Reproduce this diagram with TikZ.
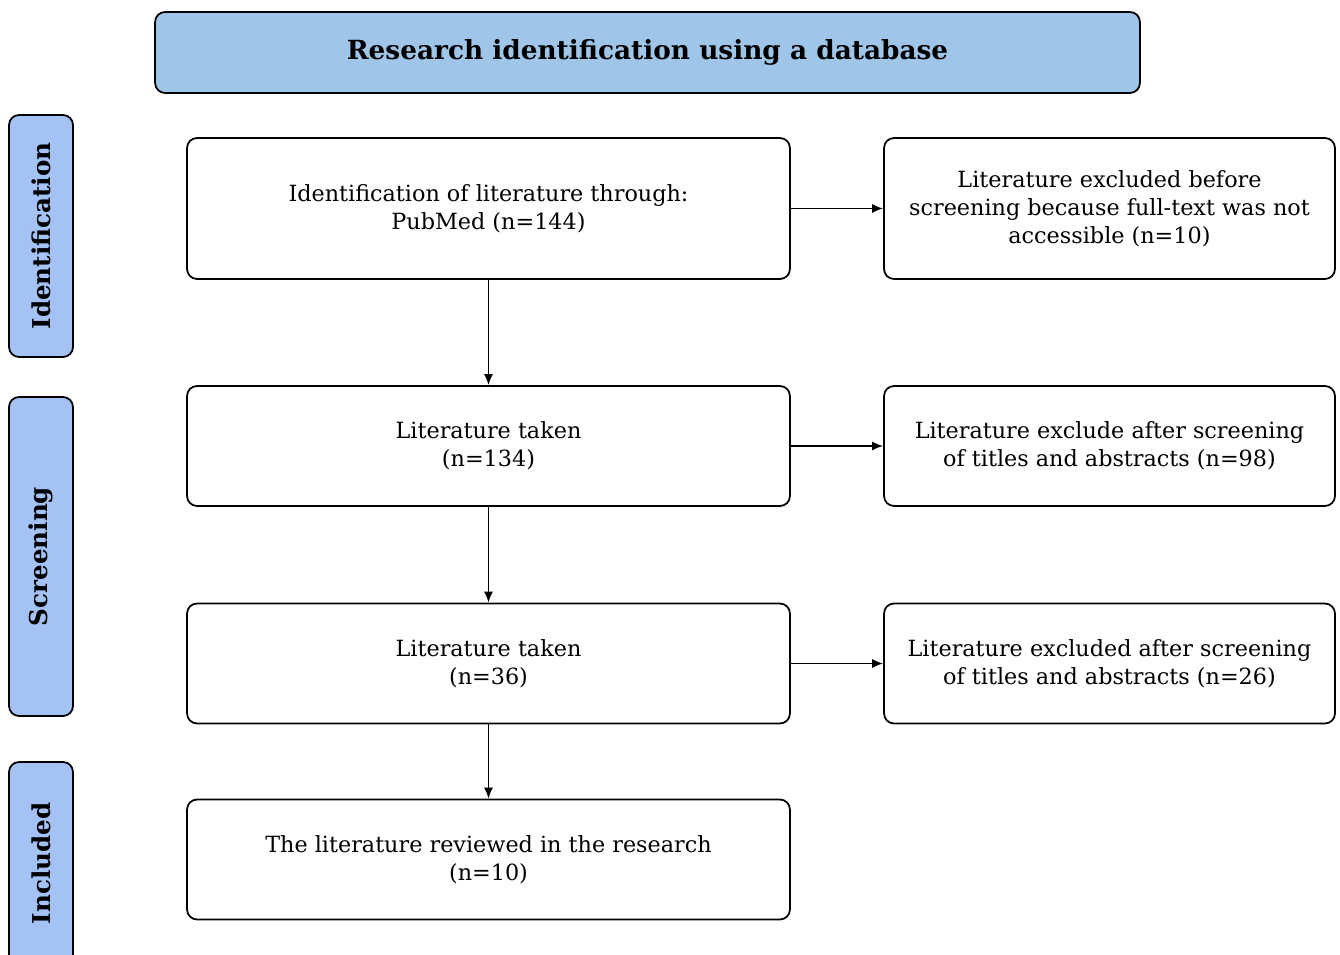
\documentclass[tikz,border=0pt]{standalone}
\usepackage{fontspec}
\setmainfont{DejaVu Serif}
\usetikzlibrary{arrows.meta}

\definecolor{titleblue}{HTML}{9FC5E8}
\definecolor{stageblue}{HTML}{A4C2F4}

\tikzset{
  flowbox/.style={draw, line width=1pt, rounded corners=0.2cm, align=center,
    inner sep=0pt, font=\fontsize{12.7}{15.9}\selectfont},
  mainbox/.style={flowbox, minimum width=12.06cm, minimum height=2.4cm},
  sidebox/.style={flowbox, minimum width=9.02cm, minimum height=2.4cm},
  stagebar/.style={draw, line width=1pt, fill=stageblue, rounded corners=0.2cm,
    rotate=90, inner sep=0pt, minimum height=1.28cm, font=\fontsize{14}{16}\selectfont\bfseries},
  flowarrow/.style={-{Latex[length=2.2mm,width=1.8mm]}, line width=0.9pt}
}

\begin{document}
\begin{tikzpicture}[x=0.02cm, y=-0.02cm]

  \useasboundingbox (0,0) rectangle (1340,955);

  % heading
  \node[draw, line width=1pt, fill=titleblue, rounded corners=0.2cm,
    minimum width=19.7cm, minimum height=1.62cm, inner sep=0pt,
    font=\fontsize{15}{18}\selectfont\bfseries] (title) at (647.5,52.5)
    {Research identification using a database};

  % stages on the left
  \node[stagebar, minimum width=4.84cm] (ident) at (41,236) {Identification};
  \node[stagebar, minimum width=6.38cm] (screen) at (41,556.5) {Screening};
  \node[stagebar, minimum width=4.06cm] (incl) at (41,863.5) {Included};

  % main column
  \node[mainbox, minimum height=2.82cm] (found) at (488.5,208.5)
    {Identification of literature through:\\PubMed (n=144)};
  \node[mainbox] (taken1) at (488.5,446) {Literature taken\\(n=134)};
  \node[mainbox] (taken2) at (488.5,663.5) {Literature taken\\(n=36)};
  \node[mainbox] (review) at (488.5,859.5)
    {The literature reviewed in the research\\(n=10)};

  % exclusions
  \node[sidebox, minimum height=2.82cm] (excl1) at (1109.5,208.5)
    {Literature excluded before\\screening because full-text was not\\accessible (n=10)};
  \node[sidebox] (excl2) at (1109.5,446)
    {Literature exclude after screening\\of titles and abstracts (n=98)};
  \node[sidebox] (excl3) at (1109.5,663.5)
    {Literature excluded after screening\\of titles and abstracts (n=26)};

  % arrows
  \draw[flowarrow] (found) -- (taken1);
  \draw[flowarrow] (taken1) -- (taken2);
  \draw[flowarrow] (taken2) -- (review);
  \draw[flowarrow] (found) -- (excl1);
  \draw[flowarrow] (taken1) -- (excl2);
  \draw[flowarrow] (taken2) -- (excl3);

\end{tikzpicture}
\end{document}
